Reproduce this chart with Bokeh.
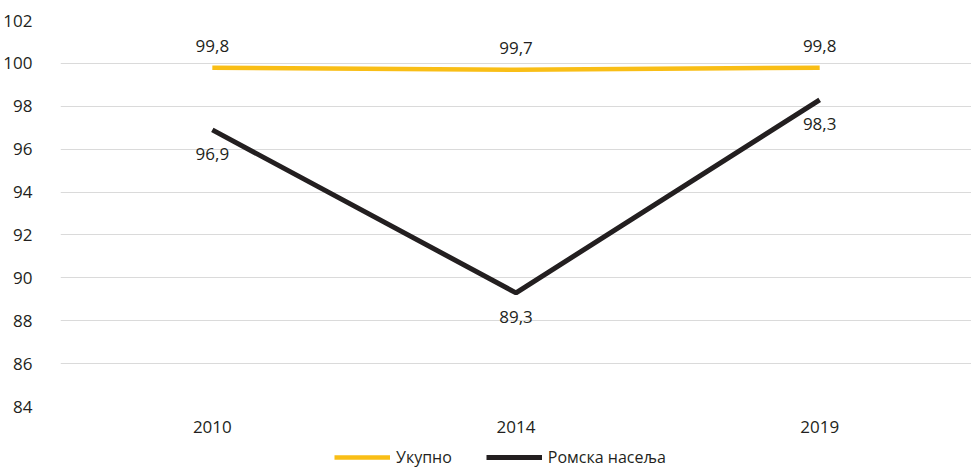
from bokeh.plotting import figure
from bokeh.layouts import column
from bokeh.models import FactorRange, FixedTicker, Legend, LegendItem, ColumnDataSource, Range1d
from bokeh.core.properties import value
from bokeh.embed import file_html
from bokeh.resources import INLINE

years = ["2010", "2014", "2019"]
total = [99.8, 99.7, 99.8]
roma = [96.9, 89.3, 98.3]
series_names = ["Укупно", "Ромска насеља"]
y_ticks = [84, 86, 88, 90, 92, 94, 96, 98, 100, 102]

FONT = "Open Sans"
TXT = "#231f20"
YELLOW = "#f9be16"
BLACK = "#231f20"

def fmt(v):
    return f"{v:.1f}".replace(".", ",")

xr = FactorRange(*years, range_padding=0)
p = figure(x_range=xr, y_range=(84, 102),
           width=971, height=442, output_backend="svg", toolbar_location=None,
           min_border_left=59, min_border_right=0, min_border_top=20, min_border_bottom=36)
p.outline_line_color = None
p.background_fill_color = "white"
p.border_fill_color = "white"

p.xgrid.grid_line_color = None
p.ygrid.grid_line_color = "#dadada"
p.ygrid.grid_line_width = 1
p.yaxis.ticker = FixedTicker(ticks=y_ticks)

for ax in (p.xaxis, p.yaxis):
    ax.axis_line_color = None
    ax.major_tick_line_color = None
    ax.minor_tick_line_color = None
    ax.major_label_text_font = FONT
    ax.major_label_text_font_size = "17px"
    ax.major_label_text_color = TXT
p.yaxis.major_label_standoff = 22
p.xaxis.major_label_standoff = 8

src_t = ColumnDataSource(dict(x=years, y=total, lab=[fmt(v) for v in total]))
src_r = ColumnDataSource(dict(x=years, y=roma, lab=[fmt(v) for v in roma]))

p.line("x", "y", source=src_t, line_color=YELLOW, line_width=4.5)
p.line("x", "y", source=src_r, line_color=BLACK, line_width=5)

p.text("x", "y", text="lab", source=src_t, text_align="center", text_baseline="middle",
       y_offset=-22, text_font=value(FONT), text_font_size="17px", text_color=TXT)
p.text("x", "y", text="lab", source=src_r, text_align="center", text_baseline="middle",
       y_offset=24, text_font=value(FONT), text_font_size="17px", text_color=TXT)

# legend strip below the chart (its series lines fall outside its own y-range)
lf = figure(width=971, height=28, output_backend="svg", toolbar_location=None,
            x_range=xr, y_range=Range1d(0, 1),
            min_border=0, min_border_left=59, min_border_right=0,
            min_border_top=0, min_border_bottom=0,
            x_axis_location=None, y_axis_location=None)
lf.outline_line_color = None
lf.xgrid.grid_line_color = None
lf.ygrid.grid_line_color = None
g1 = lf.line("x", "y", source=src_t, line_color=YELLOW, line_width=4.5)
g2 = lf.line("x", "y", source=src_r, line_color=BLACK, line_width=5)

legend = Legend(items=[LegendItem(label=series_names[0], renderers=[g1]),
                       LegendItem(label=series_names[1], renderers=[g2])],
                orientation="horizontal", location=(274, 2),
                label_text_font=FONT, label_text_font_size="16px", label_text_color=TXT,
                glyph_width=56, glyph_height=18, label_height=18, label_standoff=6, spacing=34,
                padding=0, margin=0, border_line_color=None, background_fill_alpha=0)
lf.add_layout(legend, "center")

layout = column(p, lf, spacing=0)
open("out.html", "w").write(file_html(layout, INLINE))
